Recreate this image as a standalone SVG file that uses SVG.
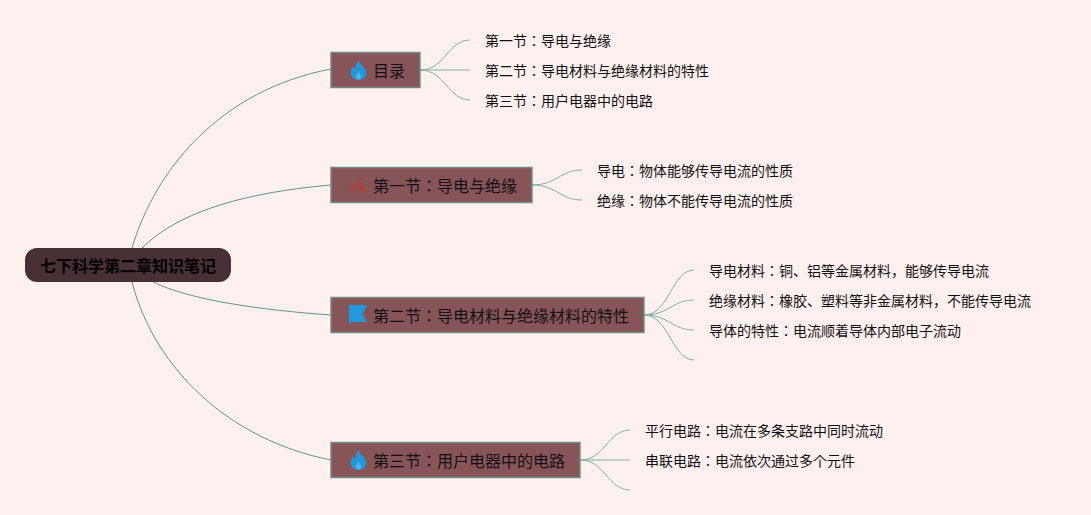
<svg xmlns="http://www.w3.org/2000/svg" width="1091" height="515" viewBox="0 0 1091 515">
<style>
text{font-family:"Noto Sans CJK JP","Liberation Sans",sans-serif;fill:#111;dominant-baseline:central}
.leaf{font-size:14px}
.sec{font-size:16px}
.box{fill:#875558;stroke:#6f8f84;stroke-width:1.500}
.c{fill:none;stroke:#5f9585;stroke-width:1}
.t{fill:none;stroke:#7fb0a0;stroke-width:1}
</style>
<defs>
<g id="fire">
<path fill="#2299dd" d="M8.500 0C9.500 4 14 6.500 16 10.500C17.500 15 14 20 8.500 20C3 20 -0.500 15 1 10.500C1.500 8.500 2.500 7.500 3.500 6.500C4 8 4.500 8.800 5.500 9.300C5.500 6 6.500 3 8.500 0Z"/>
<path fill="#55b3e6" d="M8.500 12C7.500 14 6 15 6 16.700C6 18.300 7.200 19.300 8.500 19.300C9.800 19.300 11 18.300 11 16.700C11 15 9.500 14 8.500 12Z"/>
</g>
</defs>
<rect width="1091" height="515" fill="#fff0f0"/>
<g id="connectors">
<path class="c" d="M132 248C155 170 220 90 331 69"/>
<path class="c" d="M142 248C180 210 250 192 331 185"/>
<path class="c" d="M153 282C190 300 260 310 331 315"/>
<path class="c" d="M132 282C155 370 230 440 331 460"/>
<path class="t" d="M420 70C445 70 448 40 470 40"/>
<path class="t" d="M420 70H470"/>
<path class="t" d="M420 70C445 70 448 100 470 100"/>
<path class="t" d="M532 185C557 185 560 170 582 170"/>
<path class="t" d="M532 185C557 185 560 200 582 200"/>
<path class="t" d="M644 315C669 315 672 270 694 270"/>
<path class="t" d="M644 315C669 315 672 300 694 300"/>
<path class="t" d="M644 315C669 315 672 330 694 330"/>
<path class="t" d="M644 315C669 315 672 360 694 360"/>
<path class="t" d="M580 460C605 460 608 430 630 430"/>
<path class="t" d="M580 460H630"/>
<path class="t" d="M580 460C605 460 608 490 630 490"/>
</g>
<g id="root">
<rect x="25" y="248" width="206" height="34" rx="12" fill="#483034"/>
<text x="128" y="265" text-anchor="middle" font-size="16" font-weight="700" style="fill:#000">七下科学第二章知识笔记</text>
</g>
<g id="n1">
<rect class="box" x="331" y="52.500" width="89" height="35"/>
<use href="#fire" x="350" y="60"/>
<text class="sec" x="373" y="70">目录</text>
</g>
<g id="n2">
<rect class="box" x="331" y="167.500" width="201" height="35"/>
<g fill="none" stroke="#c8352a" stroke-width="2.200" stroke-linecap="round">
<path d="M358 183L365 192"/><path d="M352 190L356 186"/><path d="M361 178L361.500 178.500"/>
</g>
<text class="sec" x="373" y="185">第一节：导电与绝缘</text>
</g>
<g id="n3">
<rect class="box" x="331" y="297.500" width="313" height="35"/>
<path d="M349 305H367L362.500 314L367 322H352L349 324Z" fill="#2299dd"/>
<text class="sec" x="373" y="315">第二节：导电材料与绝缘材料的特性</text>
</g>
<g id="n4">
<rect class="box" x="331" y="442.500" width="249" height="35"/>
<use href="#fire" x="350" y="450"/>
<text class="sec" x="373" y="460">第三节：用户电器中的电路</text>
</g>
<g id="leaves">
<text class="leaf" x="485" y="40">第一节：导电与绝缘</text>
<text class="leaf" x="485" y="70">第二节：导电材料与绝缘材料的特性</text>
<text class="leaf" x="485" y="100">第三节：用户电器中的电路</text>
<text class="leaf" x="597" y="170">导电：物体能够传导电流的性质</text>
<text class="leaf" x="597" y="200">绝缘：物体不能传导电流的性质</text>
<text class="leaf" x="709" y="270">导电材料：铜、铝等金属材料，能够传导电流</text>
<text class="leaf" x="709" y="300">绝缘材料：橡胶、塑料等非金属材料，不能传导电流</text>
<text class="leaf" x="709" y="330">导体的特性：电流顺着导体内部电子流动</text>
<text class="leaf" x="645" y="430">平行电路：电流在多条支路中同时流动</text>
<text class="leaf" x="645" y="460">串联电路：电流依次通过多个元件</text>
</g>
</svg>
